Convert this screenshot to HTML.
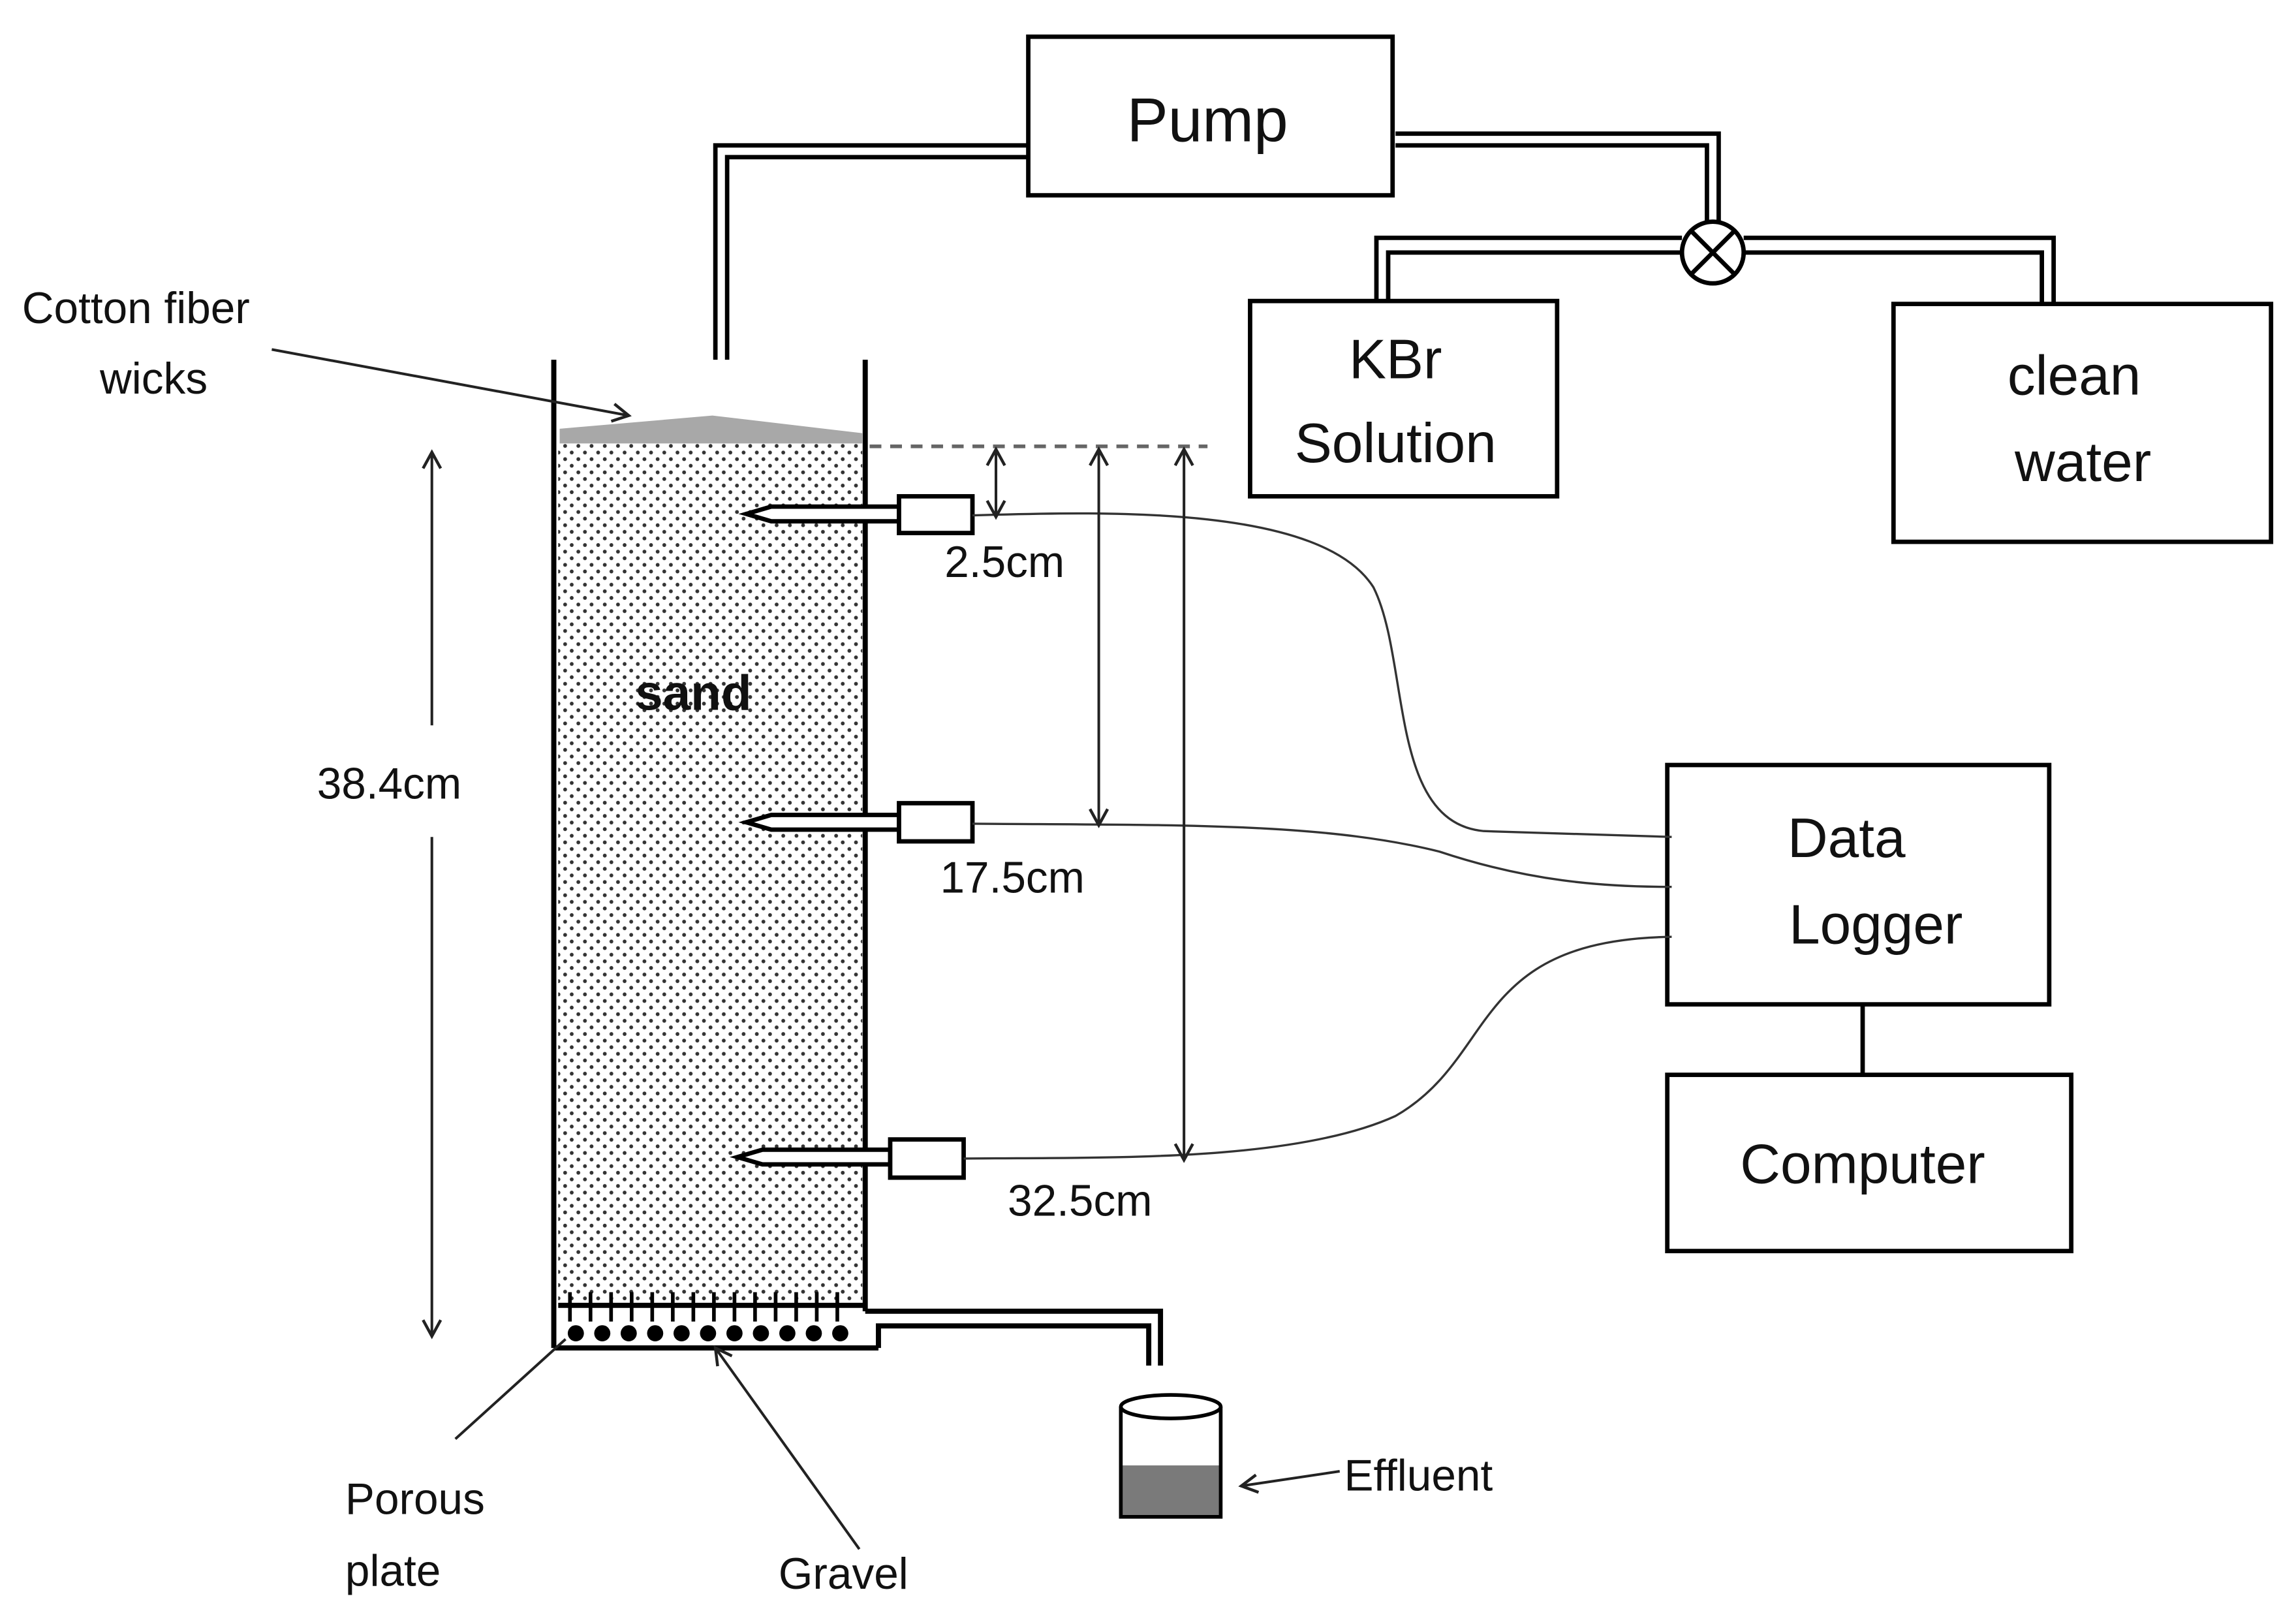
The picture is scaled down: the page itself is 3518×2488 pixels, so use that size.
<!DOCTYPE html>
<html><head><meta charset="utf-8"><style>
html,body{margin:0;padding:0;background:#fff}
svg{display:block}
text{font-family:"Liberation Sans",sans-serif;fill:#111;dominant-baseline:central}
</style></head><body>
<svg width="3518" height="2488" viewBox="0 0 1563 1106" preserveAspectRatio="none" xmlns="http://www.w3.org/2000/svg">
<defs>
<pattern id="dots" width="9" height="9" patternUnits="userSpaceOnUse">
<circle cx="2.2" cy="2.2" r="1.3" fill="#333"/><circle cx="6.7" cy="6.7" r="1.3" fill="#333"/>
</pattern>
<marker id="ah" markerWidth="14" markerHeight="14" refX="12" refY="7" orient="auto" markerUnits="userSpaceOnUse">
<path d="M1,1 L12,7 L1,13" fill="none" stroke="#222" stroke-width="2"/>
</marker>
<marker id="ahs" markerWidth="14" markerHeight="14" refX="2" refY="7" orient="auto" markerUnits="userSpaceOnUse">
<path d="M13,1 L2,7 L13,13" fill="none" stroke="#222" stroke-width="2"/>
</marker>
</defs>
<g stroke="#000" stroke-width="3" fill="none">
<rect x="700" y="25" width="248" height="108"/>
<polyline points="700,99 487,99 487,245"/>
<polyline points="700,107 495,107 495,245"/>
<polyline points="950,91 1170,91 1170,152"/>
<polyline points="950,99 1162,99 1162,152"/>
<polyline points="1145,162 937,162 937,205"/>
<polyline points="1145,172 945,172 945,205"/>
<polyline points="1187,162 1398,162 1398,207"/>
<polyline points="1187,172 1390,172 1390,207"/>
<circle cx="1166" cy="172" r="21" fill="#fff"/>
<line x1="1151" y1="157" x2="1181" y2="187"/><line x1="1181" y1="157" x2="1151" y2="187"/>
<rect x="851" y="205" width="209" height="133"/>
<rect x="1289" y="207" width="257" height="162"/>
<rect x="1135" y="521" width="260" height="163"/>
<line x1="1268" y1="684" x2="1268" y2="732"/>
<rect x="1135" y="732" width="275" height="120"/>
</g>
<rect x="380" y="302" width="207" height="588" fill="url(#dots)"/>
<polygon points="381,302 381,292 485,283 587,295 587,302" fill="#a8a8a8"/>
<g stroke="#000" stroke-width="3.5" fill="none">
<line x1="377" y1="245" x2="377" y2="918"/>
<line x1="589" y1="245" x2="589" y2="893"/>
<line x1="377" y1="918" x2="598" y2="918"/>
<polyline points="589,893 790,893 790,930"/>
<polyline points="598,918 598,903 782,903 782,930"/>
<line x1="380" y1="889" x2="589" y2="889"/>
</g>
<g stroke="#000" stroke-width="2.5">
<path d="M388,880V900M402,880V900M416,880V900M430,880V900M444,880V900M458,880V900M472,880V900M486,880V900M500,880V900M514,880V900M528,880V900M542,880V900M556,880V900M570,880V900"/>
</g>
<g fill="#000">
<circle cx="392" cy="908" r="5.5"/><circle cx="410" cy="908" r="5.5"/><circle cx="428" cy="908" r="5.5"/><circle cx="446" cy="908" r="5.5"/><circle cx="464" cy="908" r="5.5"/><circle cx="482" cy="908" r="5.5"/><circle cx="500" cy="908" r="5.5"/><circle cx="518" cy="908" r="5.5"/><circle cx="536" cy="908" r="5.5"/><circle cx="554" cy="908" r="5.5"/><circle cx="572" cy="908" r="5.5"/>
</g>
<line x1="592" y1="304" x2="822" y2="304" stroke="#666" stroke-width="2.5" stroke-dasharray="8,6"/>
<g stroke="#000" stroke-width="3" fill="#fff">
<path d="M612,345 L525,345 L508,350 L525,355 L612,355 Z"/>
<rect x="612" y="338" width="50" height="25"/>
<path d="M612,555 L525,555 L508,560 L525,565 L612,565 Z"/>
<rect x="612" y="547" width="50" height="26"/>
<path d="M606,783 L519,783 L502,788 L519,793 L606,793 Z"/>
<rect x="606" y="776" width="50" height="26"/>
</g>
<g stroke="#333" stroke-width="1.5" fill="none">
<path d="M662,351 C760,348 900,345 935,400 C960,450 945,560 1010,566 L1138,570"/>
<path d="M662,561 C800,562 900,560 980,580 C1040,600 1090,604 1138,604"/>
<path d="M656,789 C750,788 880,792 950,760 C1020,720 1000,640 1138,638"/>
</g>
<g stroke="#222" stroke-width="1.8" fill="none">
<line x1="678" y1="306" x2="678" y2="352" marker-start="url(#ahs)" marker-end="url(#ah)"/>
<line x1="748" y1="306" x2="748" y2="562" marker-start="url(#ahs)" marker-end="url(#ah)"/>
<line x1="806" y1="306" x2="806" y2="790" marker-start="url(#ahs)" marker-end="url(#ah)"/>
<line x1="294" y1="308" x2="294" y2="494" marker-start="url(#ahs)"/>
<line x1="294" y1="570" x2="294" y2="910" marker-end="url(#ah)"/>
<line x1="185" y1="238" x2="428" y2="283" marker-end="url(#ah)"/>
<line x1="310" y1="980" x2="385" y2="912"/>
<line x1="585" y1="1055" x2="487" y2="918" marker-end="url(#ah)"/>
<line x1="912" y1="1002" x2="845" y2="1012" marker-end="url(#ah)"/>
</g>
<rect x="764" y="998" width="66" height="35" fill="#7a7a7a"/>
<g stroke="#000" stroke-width="2.5" fill="none">
<ellipse cx="797" cy="958" rx="34" ry="8"/>
<path d="M763,958 V1033 H831 V958"/>
</g>
<text x="822" y="82" font-size="42" text-anchor="middle">Pump</text>
<text x="950" y="245" font-size="38" text-anchor="middle">KBr</text>
<text x="950" y="302" font-size="38" text-anchor="middle">Solution</text>
<text x="1412" y="256" font-size="38" text-anchor="middle">clean</text>
<text x="1418" y="315" font-size="38" text-anchor="middle">water</text>
<text x="1257" y="571" font-size="38" text-anchor="middle">Data</text>
<text x="1277" y="630" font-size="38" text-anchor="middle">Logger</text>
<text x="1268" y="793" font-size="38" text-anchor="middle">Computer</text>
<text x="15" y="210" font-size="30">Cotton fiber</text>
<text x="68" y="258" font-size="30">wicks</text>
<text x="265" y="534" font-size="30" text-anchor="middle">38.4cm</text>
<text x="472" y="472" font-size="34" font-weight="bold" text-anchor="middle">sand</text>
<text x="643" y="383" font-size="30">2.5cm</text>
<text x="640" y="598" font-size="30">17.5cm</text>
<text x="686" y="818" font-size="30">32.5cm</text>
<text x="235" y="1021" font-size="30">Porous</text>
<text x="235" y="1070" font-size="30">plate</text>
<text x="530" y="1072" font-size="30">Gravel</text>
<text x="915" y="1005" font-size="30">Effluent</text>
</svg>
</body></html>
